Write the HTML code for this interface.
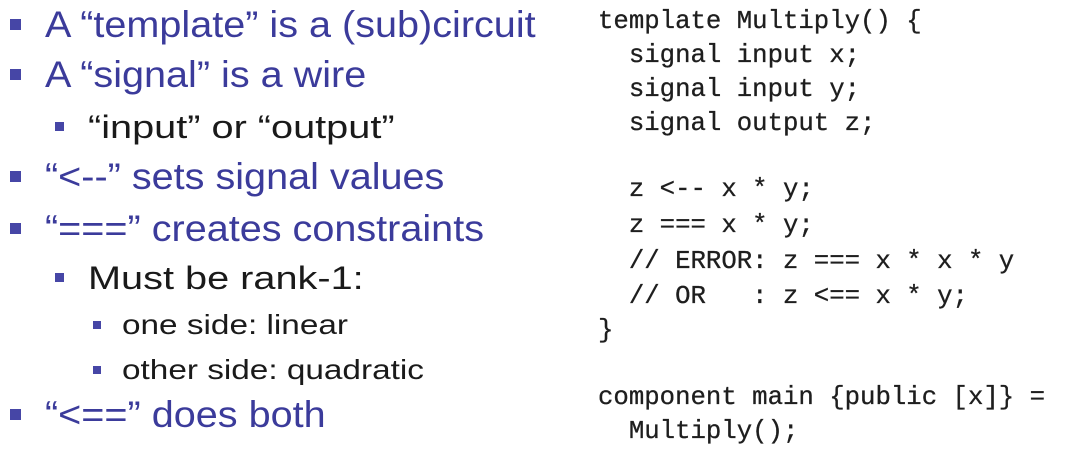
<!DOCTYPE html>
<html><head><meta charset="utf-8"><style>
body{margin:0;width:1085px;height:457px;background:#fff;position:relative;overflow:hidden}
.t{position:absolute;white-space:nowrap;font-family:"Liberation Sans",sans-serif;color:#3b3b9b;transform-origin:left center}
.l1{font-size:37px;line-height:44px;left:45px;transform:scaleX(1.07)}
.l2{font-size:32px;line-height:40px;left:88px;color:#1a1a1a;transform:scaleX(1.24)}
.l3{font-size:28px;line-height:34px;left:122px;color:#1a1a1a;transform:scaleX(1.19)}
.b{position:absolute;background:#4646a6}
.c{position:absolute;left:598px;font-family:"Liberation Mono",monospace;font-size:25.7px;line-height:34px;color:#1e1e1e;white-space:pre;-webkit-text-stroke:0.3px #1e1e1e}
</style></head><body>
<div class="b" style="left:10px;top:19px;width:11px;height:11px"></div>
<div class="t l1" style="top:3px">A “template” is a (sub)circuit</div>
<div class="b" style="left:10px;top:69px;width:11px;height:11px"></div>
<div class="t l1" style="top:53px">A “signal” is a wire</div>
<div class="b" style="left:55px;top:122px;width:9px;height:9px"></div>
<div class="t l2" style="top:107px">“input” or “output”</div>
<div class="b" style="left:10px;top:171px;width:11px;height:11px"></div>
<div class="t l1" style="top:155px">“&lt;--” sets signal values</div>
<div class="b" style="left:10px;top:223px;width:11px;height:11px"></div>
<div class="t l1" style="top:207px">“===” creates constraints</div>
<div class="b" style="left:55px;top:273px;width:9px;height:9px"></div>
<div class="t l2" style="top:258px">Must be rank-1:</div>
<div class="b" style="left:93px;top:321px;width:8px;height:8px"></div>
<div class="t l3" style="top:308px">one side: linear</div>
<div class="b" style="left:93px;top:366px;width:8px;height:8px"></div>
<div class="t l3" style="top:353px">other side: quadratic</div>
<div class="b" style="left:10px;top:409px;width:11px;height:11px"></div>
<div class="t l1" style="top:393px">“&lt;==” does both</div>

<div class="c" style="top:5px">template Multiply() {</div>
<div class="c" style="top:39px">  signal input x;</div>
<div class="c" style="top:73px">  signal input y;</div>
<div class="c" style="top:107px">  signal output z;</div>
<div class="c" style="top:173px">  z &lt;-- x * y;</div>
<div class="c" style="top:209px">  z === x * y;</div>
<div class="c" style="top:245px">  // ERROR: z === x * x * y</div>
<div class="c" style="top:280px">  // OR   : z &lt;== x * y;</div>
<div class="c" style="top:314px">}</div>
<div class="c" style="top:381px">component main {public [x]} =</div>
<div class="c" style="top:415px">  Multiply();</div>
</body></html>
